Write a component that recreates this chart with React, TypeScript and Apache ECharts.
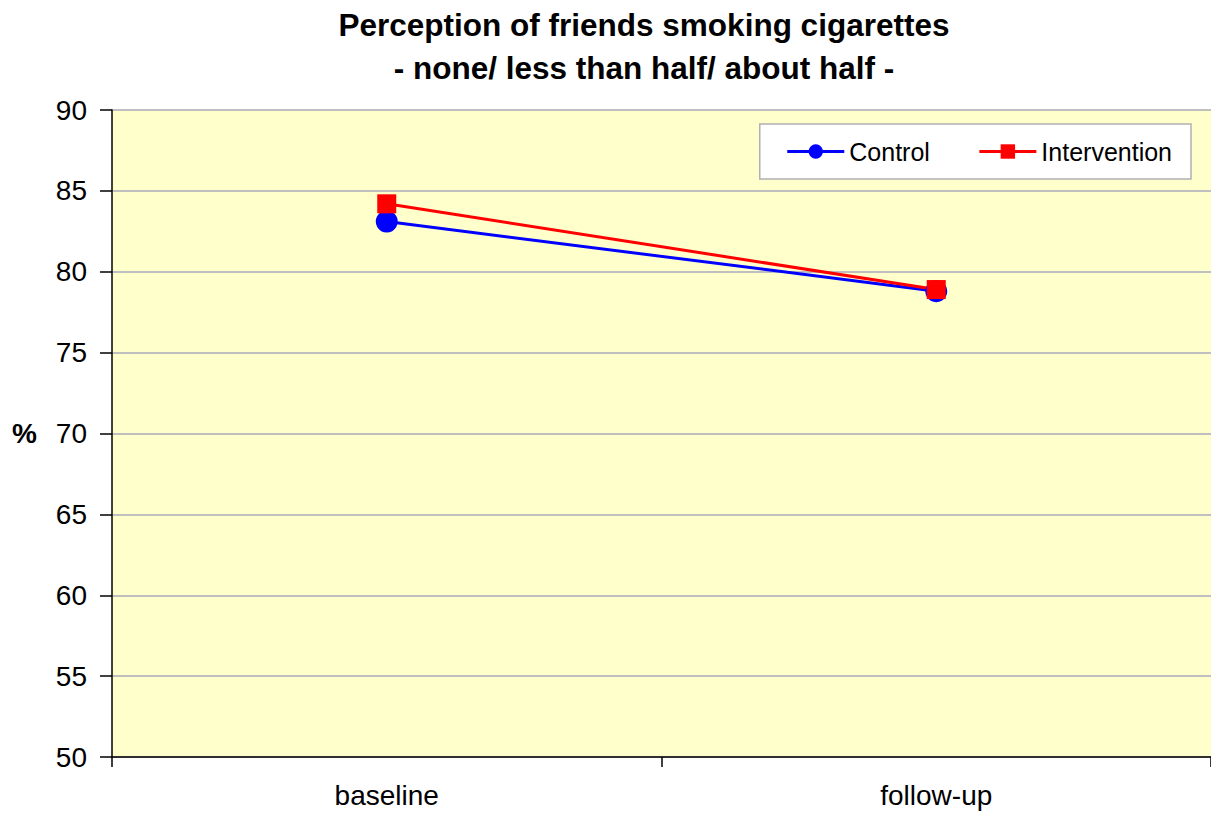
import React, { useEffect, useRef } from "react";
import * as echarts from "echarts";

const categories = ["baseline", "follow-up"];
const controlValues = [83.1, 78.8];
const interventionValues = [84.2, 78.9];
const titleLines = ["Perception of friends smoking cigarettes", "- none/ less than half/ about half -"];

export default function App() {
  const ref = useRef<HTMLDivElement>(null);
  useEffect(() => {
    const chart = echarts.init(ref.current!, null, { renderer: "svg" });
    const font = "'Liberation Sans', Arial, sans-serif";
    chart.setOption({
      animation: false,
      backgroundColor: "#ffffff",
      textStyle: { fontFamily: font },
      title: {
        text: titleLines.join("\n"),
        left: 639,
        textAlign: "center",
        top: -2,
        textStyle: { fontFamily: font, fontSize: 31.5, fontWeight: "bold", color: "#000", lineHeight: 43 },
      },
      grid: { left: 112, right: 0, top: 110, bottom: 57, containLabel: false, show: true, backgroundColor: "#ffffcc", borderWidth: 0 },
      legend: {
        right: 20,
        top: 124,
        orient: "horizontal",
        backgroundColor: "#ffffff",
        borderColor: "#b0b0b0",
        borderWidth: 1.5,
        padding: [15, 19, 15, 26],
        itemGap: 48,
        itemWidth: 57,
        itemHeight: 18,
        lineStyle: { width: 3 },
        textStyle: { fontFamily: font, fontSize: 25, color: "#000" },
        data: ["Control", "Intervention"],
      },
      xAxis: {
        type: "category",
        data: categories,
        boundaryGap: true,
        axisLine: { lineStyle: { color: "#000", width: 1.5 } },
        axisTick: { show: true, length: 10, lineStyle: { color: "#000", width: 1.5 } },
        axisLabel: { fontFamily: font, fontSize: 28, color: "#000", margin: 24 },
      },
      yAxis: {
        type: "value",
        min: 50,
        max: 90,
        interval: 5,
        name: "%",
        nameLocation: "middle",
        nameRotate: 0,
        nameGap: 75,
        nameTextStyle: { fontFamily: font, fontSize: 28, fontWeight: "bold", color: "#000" },
        axisLine: { show: true, lineStyle: { color: "#000", width: 1.5 } },
        axisTick: { show: true, length: 12, lineStyle: { color: "#000", width: 1.5 } },
        axisLabel: { fontFamily: font, fontSize: 28, color: "#000", margin: 25 },
        splitLine: { show: true, lineStyle: { color: "#bfbfbf", width: 2 } },
      },
      series: [
        {
          name: "Control",
          type: "line",
          data: controlValues,
          symbol: "circle",
          symbolSize: 22,
          itemStyle: { color: "#0000ff" },
          lineStyle: { color: "#0000ff", width: 3 },
        },
        {
          name: "Intervention",
          type: "line",
          data: interventionValues,
          symbol: "rect",
          symbolSize: 19,
          itemStyle: { color: "#ff0000" },
          lineStyle: { color: "#ff0000", width: 3 },
        },
      ],
    });
    return () => chart.dispose();
  }, []);
  return <div ref={ref} style={{ position: "fixed", left: 0, top: 0, width: 1211, height: 814 }} />;
}
